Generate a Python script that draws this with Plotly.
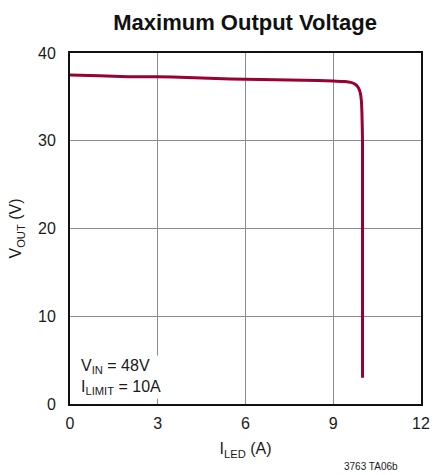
import plotly.graph_objects as go

LINE_RED = "#990033"
GRID = "#8c8c8c"

# I_LED (A) vs V_OUT (V)
i_led = [0, 1, 2, 3, 4, 5, 6, 7, 8, 9, 9.4, 9.6, 9.75, 9.85, 9.92, 9.96, 9.98, 10.0, 10.0]
v_out = [37.5, 37.4, 37.3, 37.3, 37.2, 37.1, 37.0, 36.95, 36.9, 36.8, 36.75, 36.65, 36.45,
         36.1, 35.5, 34.6, 33.2, 30.0, 3.0]

x_ticks = [0, 3, 6, 9, 12]
y_ticks = [0, 10, 20, 30, 40]

FONT = "Liberation Sans, Arial, sans-serif"

fig = go.Figure()
fig.add_trace(go.Scatter(
    x=i_led, y=v_out, mode="lines",
    line=dict(color=LINE_RED, width=3, shape="spline", smoothing=0.6),
    showlegend=False, hoverinfo="skip",
))

fig.update_layout(
    width=433, height=475,
    paper_bgcolor="white", plot_bgcolor="white",
    font=dict(family=FONT, size=16, color="#1a1a1a"),
    margin=dict(l=70, r=12, t=53, b=71),
    showlegend=False,
    title=dict(
        text="<b>Maximum Output Voltage</b>",
        x=0.566, xanchor="center", y=0.953, yanchor="middle",
        font=dict(family=FONT, size=22, color="#111111"),
    ),
)

fig.update_xaxes(
    range=[0, 12], tickvals=x_ticks, showgrid=True, gridcolor=GRID, gridwidth=1,
    zeroline=False, showline=True, linecolor="#111111", linewidth=2, mirror=True,
    ticks="", ticklabelstandoff=4, automargin=False,
    title=dict(text="I<sub>LED</sub> (A)", standoff=12, font=dict(size=16)),
)
fig.update_yaxes(
    range=[0, 40], tickvals=y_ticks, showgrid=True, gridcolor=GRID, gridwidth=1,
    zeroline=False, showline=True, linecolor="#111111", linewidth=2, mirror=True,
    ticks="", ticklabelstandoff=9, automargin=False,
    title=dict(text="V<sub>OUT</sub> (V)", standoff=12, font=dict(size=16)),
)

fig.add_annotation(
    x=0.3, y=0.55, xref="x", yref="y", xanchor="left", yanchor="bottom",
    text="V<sub>IN</sub> = 48V<br>I<sub>LIMIT</sub> = 10A",
    showarrow=False, align="left", bgcolor="white",
    font=dict(family=FONT, size=16, color="#1a1a1a"),
)
fig.add_annotation(
    x=0.94, y=-0.177, xref="paper", yref="paper", xanchor="right", yanchor="middle",
    text="3763 TA06b", showarrow=False,
    font=dict(family=FONT, size=10, color="#1a1a1a"),
)

# drop the default body margin so the 433x475 figure fills the window exactly
fig.write_html(
    "out.html",
    config={"displayModeBar": False},
    post_script="document.body.style.margin='0';document.body.style.overflow='hidden';",
)
